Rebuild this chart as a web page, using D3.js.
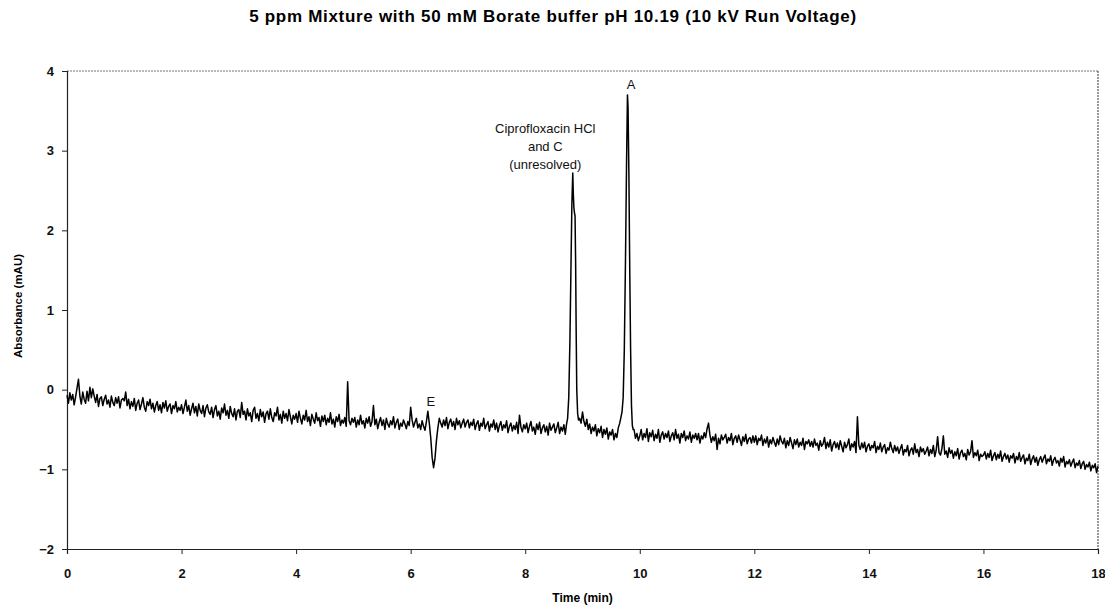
<!DOCTYPE html>
<html>
<head>
<meta charset="utf-8">
<script src="https://cdn.jsdelivr.net/npm/d3@7/dist/d3.min.js"></script>
<style>
  html, body { margin: 0; padding: 0; background: #fff; }
  svg { display: block; }
  text { font-family: "Liberation Sans", Arial, Helvetica, sans-serif; }
</style>
</head>
<body>
<svg id="chart" width="1105" height="609"></svg>
<script>
// ---------------- DATA ----------------
const title = "5 ppm Mixture with 50 mM Borate buffer pH 10.19 (10 kV Run Voltage)";
const xLabel = "Time (min)";
const yLabel = "Absorbance (mAU)";
const xTicks = [0, 2, 4, 6, 8, 10, 12, 14, 16, 18];
const yTicks = [-2, -1, 0, 1, 2, 3, 4];

// Detector trace, one reading every 0.025 min
// from 0 to 18 min (null = inside a peak window, given separately below)
const sampleStep = 0.025;
const baselineAbs = [
  // 0 min
  -0.07,-0.17,-0.04,-0.13,-0.06,-0.19,-0.09,0.02,0.13,-0.08,-0.18,-0.03,-0.12,-0.17,-0.02,-0.14,0.03,-0.10,0.01,-0.08,
  -0.16,-0.06,-0.21,-0.11,-0.09,-0.20,-0.12,-0.07,-0.18,-0.13,-0.22,-0.08,-0.16,-0.20,-0.10,-0.17,-0.09,-0.23,-0.13,-0.11,
  // 1 min
  -0.14,-0.03,-0.20,-0.12,-0.24,-0.15,-0.21,-0.11,-0.26,-0.17,-0.13,-0.25,-0.18,-0.10,-0.22,-0.27,-0.15,-0.20,-0.12,-0.24,
  -0.17,-0.28,-0.20,-0.15,-0.26,-0.19,-0.29,-0.16,-0.23,-0.14,-0.27,-0.21,-0.18,-0.30,-0.20,-0.24,-0.15,-0.28,-0.22,-0.26,
  // 2 min
  -0.19,-0.30,-0.22,-0.13,-0.27,-0.20,-0.32,-0.24,-0.17,-0.29,-0.21,-0.33,-0.18,-0.26,-0.30,-0.20,-0.34,-0.23,-0.19,-0.28,
  -0.31,-0.22,-0.35,-0.25,-0.20,-0.33,-0.27,-0.37,-0.23,-0.29,-0.18,-0.32,-0.26,-0.36,-0.21,-0.30,-0.34,-0.24,-0.38,-0.27,
  // 3 min
  -0.25,-0.35,-0.16,-0.31,-0.27,-0.38,-0.24,-0.33,-0.29,-0.40,-0.26,-0.22,-0.36,-0.30,-0.39,-0.25,-0.34,-0.28,-0.41,-0.30,
  -0.27,-0.37,-0.24,-0.35,-0.40,-0.29,-0.33,-0.22,-0.38,-0.31,-0.42,-0.27,-0.36,-0.30,-0.39,-0.25,-0.34,-0.43,-0.32,-0.37,
  // 4 min
  -0.30,-0.41,-0.27,-0.36,-0.43,-0.32,-0.38,-0.26,-0.40,-0.34,-0.45,-0.31,-0.37,-0.42,-0.29,-0.39,-0.35,-0.46,-0.33,-0.40,
  -0.32,-0.44,-0.36,-0.41,-0.29,-0.43,-0.37,-0.47,-0.34,-0.40,-0.31,-0.45,-0.38,-0.42,-0.35,-0.46,0.10,-0.39,-0.44,-0.36,
  // 5 min
  -0.41,-0.35,-0.47,-0.38,-0.44,-0.32,-0.43,-0.39,-0.48,-0.36,-0.42,-0.34,-0.46,-0.40,-0.20,-0.44,-0.37,-0.49,-0.41,-0.35,
  -0.45,-0.38,-0.50,-0.36,-0.43,-0.47,-0.39,-0.44,-0.34,-0.48,-0.41,-0.37,-0.50,-0.42,-0.46,-0.38,-0.43,-0.49,-0.40,-0.45,
  // 6 min (E: small peak then negative dip)
  -0.22,-0.38,-0.47,-0.41,-0.36,-0.48,-0.43,-0.50,-0.39,-0.46,-0.51,-0.40,-0.27,-0.42,-0.60,-0.85,-0.98,-0.86,-0.64,-0.48,
  -0.36,-0.42,-0.47,-0.38,-0.45,-0.35,-0.49,-0.41,-0.37,-0.46,-0.40,-0.50,-0.36,-0.44,-0.39,-0.48,-0.42,-0.37,-0.47,-0.41,
  // 7 min
  -0.38,-0.48,-0.41,-0.45,-0.37,-0.50,-0.43,-0.39,-0.51,-0.42,-0.46,-0.36,-0.49,-0.44,-0.40,-0.52,-0.43,-0.47,-0.38,-0.50,
  -0.42,-0.53,-0.45,-0.40,-0.51,-0.44,-0.48,-0.39,-0.54,-0.46,-0.42,-0.52,-0.45,-0.50,-0.41,-0.55,-0.32,-0.47,-0.53,-0.44,
  // 8 min
  -0.49,-0.42,-0.54,-0.46,-0.40,-0.52,-0.47,-0.56,-0.43,-0.50,-0.41,-0.55,-0.48,-0.44,-0.53,-0.46,-0.57,-0.42,-0.51,-0.47,
  -0.43,-0.54,-0.48,-0.41,-0.55,-0.47,-0.52,-0.44,-0.56,null,null,null,null,null,null,null,null,null,-0.36,-0.42,
  // 9 min
  -0.28,-0.40,-0.46,-0.37,-0.50,-0.43,-0.55,-0.47,-0.52,-0.44,-0.58,-0.49,-0.54,-0.46,-0.60,-0.50,-0.56,-0.48,-0.62,-0.53,
  -0.57,-0.50,-0.63,-0.55,-0.60,-0.48,-0.42,null,null,null,null,null,null,null,null,null,-0.50,-0.61,-0.55,-0.64,
  // 10 min
  -0.58,-0.50,-0.63,-0.55,-0.60,-0.49,-0.65,-0.54,-0.59,-0.51,-0.64,-0.56,-0.61,-0.50,-0.66,-0.57,-0.53,-0.62,-0.55,-0.60,
  -0.52,-0.65,-0.58,-0.54,-0.63,-0.50,-0.61,-0.56,-0.67,-0.55,-0.60,-0.52,-0.64,-0.58,-0.62,-0.53,-0.66,-0.57,-0.61,-0.55,
  // 11 min
  -0.63,-0.55,-0.67,-0.58,-0.62,-0.54,-0.60,-0.49,-0.42,-0.57,-0.66,-0.59,-0.64,-0.56,-0.75,-0.61,-0.68,-0.57,-0.63,-0.60,
  -0.56,-0.67,-0.60,-0.64,-0.55,-0.69,-0.61,-0.58,-0.66,-0.57,-0.63,-0.70,-0.59,-0.65,-0.56,-0.68,-0.62,-0.60,-0.67,-0.58,
  // 12 min
  -0.66,-0.58,-0.69,-0.61,-0.64,-0.57,-0.70,-0.62,-0.67,-0.59,-0.72,-0.63,-0.68,-0.60,-0.66,-0.71,-0.62,-0.69,-0.58,-0.65,
  -0.68,-0.61,-0.73,-0.64,-0.70,-0.60,-0.67,-0.74,-0.63,-0.69,-0.62,-0.72,-0.66,-0.70,-0.61,-0.75,-0.65,-0.68,-0.63,-0.71,
  // 13 min
  -0.65,-0.72,-0.62,-0.70,-0.67,-0.76,-0.64,-0.71,-0.68,-0.60,-0.74,-0.66,-0.72,-0.63,-0.77,-0.69,-0.65,-0.73,-0.67,-0.75,
  -0.64,-0.71,-0.78,-0.66,-0.73,-0.69,-0.62,-0.76,-0.68,-0.72,-0.65,-0.79,-0.34,-0.70,-0.75,-0.67,-0.73,-0.66,-0.78,-0.71,
  // 14 min
  -0.68,-0.76,-0.70,-0.73,-0.65,-0.79,-0.71,-0.75,-0.67,-0.78,-0.72,-0.69,-0.80,-0.73,-0.76,-0.66,-0.74,-0.79,-0.70,-0.77,
  -0.72,-0.80,-0.74,-0.69,-0.82,-0.75,-0.78,-0.70,-0.83,-0.76,-0.73,-0.81,-0.68,-0.79,-0.75,-0.84,-0.72,-0.78,-0.74,-0.81,
  // 15 min
  -0.77,-0.72,-0.83,-0.75,-0.80,-0.70,-0.84,-0.76,-0.59,-0.79,-0.82,-0.74,-0.58,-0.81,-0.77,-0.85,-0.73,-0.80,-0.76,-0.86,
  -0.78,-0.83,-0.74,-0.87,-0.79,-0.76,-0.84,-0.80,-0.88,-0.75,-0.82,-0.78,-0.64,-0.85,-0.79,-0.83,-0.76,-0.89,-0.81,-0.84,
  // 16 min
  -0.82,-0.78,-0.87,-0.80,-0.85,-0.76,-0.89,-0.83,-0.79,-0.88,-0.81,-0.86,-0.77,-0.90,-0.84,-0.80,-0.87,-0.82,-0.91,-0.83,
  -0.86,-0.80,-0.92,-0.84,-0.88,-0.79,-0.90,-0.85,-0.82,-0.93,-0.86,-0.89,-0.81,-0.94,-0.87,-0.83,-0.91,-0.85,-0.95,-0.88,
  // 17 min
  -0.84,-0.91,-0.86,-0.82,-0.93,-0.87,-0.90,-0.83,-0.95,-0.88,-0.85,-0.92,-0.89,-0.96,-0.86,-0.91,-0.84,-0.97,-0.90,-0.93,
  -0.88,-0.96,-0.91,-0.87,-0.98,-0.92,-0.95,-0.89,-0.99,-0.93,-0.90,-1.00,-0.94,-0.97,-0.91,-1.02,-0.95,-0.98,-0.93,-1.04,
  // 18 min
  -0.96
];

// Ciprofloxacin HCl + C peak (unresolved)
const peak1Time = [8.72, 8.74, 8.76, 8.78, 8.80, 8.815, 8.83, 8.84, 8.85, 8.86, 8.87, 8.88, 8.89, 8.90, 8.915, 8.93];
const peak1Abs  = [-0.44, -0.36, -0.10, 0.60, 1.60, 2.35, 2.72, 2.45, 2.28, 2.22, 2.18, 1.60, 0.70, 0.00, -0.30, -0.38];

// Peak A
const peakATime = [9.67, 9.69, 9.71, 9.73, 9.75, 9.77, 9.785, 9.795, 9.81, 9.825, 9.84, 9.855, 9.87, 9.885];
const peakAAbs  = [-0.35, -0.28, -0.10, 0.50, 1.60, 2.90, 3.70, 3.55, 2.70, 1.50, 0.50, -0.20, -0.45, -0.50];

// Annotations
const annotations = [
  { lines: ["Ciprofloxacin HCl", "and C", "(unresolved)"], t: 8.35, v: 3.22 },
  { lines: ["A"], t: 9.85, v: 3.78 },
  { lines: ["E"], t: 6.35, v: -0.2 }
];

// ---------------- BUILD ----------------
const points = [];
baselineAbs.forEach((v, i) => { if (v !== null) points.push({ t: +(i * sampleStep).toFixed(3), v }); });
peak1Time.forEach((t, i) => points.push({ t, v: peak1Abs[i] }));
peakATime.forEach((t, i) => points.push({ t, v: peakAAbs[i] }));
points.sort((a, b) => a.t - b.t);

const svg = d3.select("#chart");
const margin = { left: 67, right: 7, top: 71, bottom: 60 };
const W = 1105, H = 609;
const x = d3.scaleLinear().domain([0, 18]).range([margin.left, W - margin.right]);
const y = d3.scaleLinear().domain([-2, 4]).range([H - margin.bottom, margin.top]);

// Title
svg.append("text")
  .attr("x", 553).attr("y", 22)
  .attr("text-anchor", "middle")
  .attr("font-size", 17).attr("font-weight", "bold")
  .attr("letter-spacing", 0.7)
  .text(title);

// Plot-area frame (top & right, dotted like the scan)
svg.append("line")
  .attr("x1", x(0)).attr("x2", x(18)).attr("y1", y(4)).attr("y2", y(4))
  .attr("stroke", "#777").attr("stroke-width", 1).attr("stroke-dasharray", "2,1");
svg.append("line")
  .attr("x1", x(18)).attr("x2", x(18)).attr("y1", y(4)).attr("y2", y(-2))
  .attr("stroke", "#333").attr("stroke-width", 1).attr("stroke-dasharray", "2,1");

// Axes
const yAxis = d3.axisLeft(y).tickValues(yTicks).tickFormat(d3.format("d")).tickSize(5).tickPadding(8);
const xAxis = d3.axisBottom(x).tickValues(xTicks).tickFormat(d3.format("d")).tickSize(5).tickPadding(15);

const gy = svg.append("g").attr("transform", `translate(${x(0)},0)`).call(yAxis);
const gx = svg.append("g").attr("transform", `translate(0,${y(-2)})`).call(xAxis);
[gx, gy].forEach(g => {
  g.select(".domain").attr("stroke", "#222").attr("stroke-width", 1.2);
  g.selectAll(".tick line").attr("stroke", "#222");
  g.selectAll(".tick text")
    .attr("font-size", 13).attr("font-weight", "bold").attr("fill", "#111")
    .attr("font-family", "'Liberation Sans Narrow', 'Liberation Sans', Arial, sans-serif");
});

// Axis titles
svg.append("text")
  .attr("x", x(9)).attr("y", 602)
  .attr("text-anchor", "middle")
  .attr("font-size", 12).attr("font-weight", "bold")
  .text(xLabel);
svg.append("text")
  .attr("transform", `translate(22,${y(1.05)}) rotate(-90)`)
  .attr("text-anchor", "middle")
  .attr("font-size", 11.5).attr("font-weight", "bold")
  .text(yLabel);

// Trace
const line = d3.line().x(d => x(d.t)).y(d => y(d.v));
svg.append("path")
  .datum(points)
  .attr("fill", "none")
  .attr("stroke", "#000")
  .attr("stroke-width", 1.5)
  .attr("stroke-linejoin", "round")
  .attr("d", line);

// Annotations
annotations.forEach(a => {
  const t = svg.append("text")
    .attr("x", x(a.t)).attr("y", y(a.v))
    .attr("text-anchor", "middle")
    .attr("font-size", 13).attr("fill", "#111");
  a.lines.forEach((ln, i) => {
    t.append("tspan").attr("x", x(a.t)).attr("dy", i === 0 ? 0 : 18).text(ln);
  });
});

// sanity check on the typed sample count (should be 721)
if (baselineAbs.length !== 721) {
  svg.append("text").attr("x", 200).attr("y", 200).attr("fill", "red").text("count " + baselineAbs.length);
}
</script>
</body>
</html>
